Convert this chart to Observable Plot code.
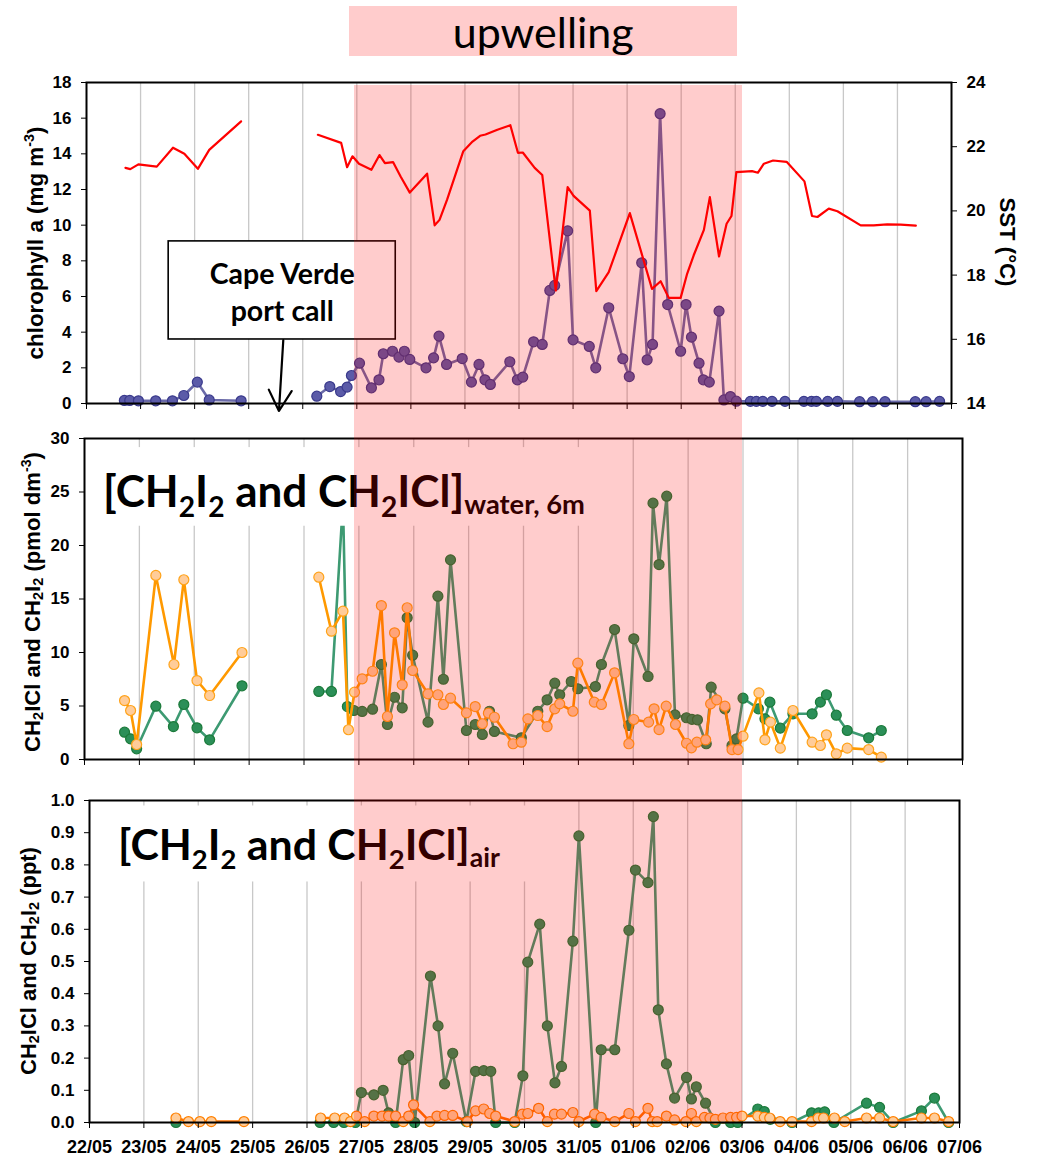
<!DOCTYPE html>
<html>
<head>
<meta charset="utf-8">
<script src="https://cdn.jsdelivr.net/npm/d3@7"></script>
<script src="https://cdn.jsdelivr.net/npm/@observablehq/plot@0.6"></script>
<style>
  body { margin: 0; background: #fff; }
  #chart { position: relative; width: 1037px; height: 1159px; overflow: hidden; background: #fff; }
  #chart svg { position: absolute; left: 0; overflow: visible; }
  .shade { position: absolute; background: rgba(255, 0, 0, 0.2); pointer-events: none; }
  .upwelling-label {
    position: absolute; display: flex; align-items: center; justify-content: center;
    font-family: Lato, "Open Sans", sans-serif; font-size: 43px; color: #000;
    background: rgba(255, 0, 0, 0.2);
  }
</style>
</head>
<body>
<div id="chart"></div>
<script>
// ---- axis ticks / labels (x = day of May; 32 = 1 June) ----
const dayTicks = d3.range(22, 39);
const gridDays = d3.range(23, 38);
const dateLabels = ["22/05","23/05","24/05","25/05","26/05","27/05","28/05","29/05","30/05","31/05",
                    "01/06","02/06","03/06","04/06","05/06","06/06","07/06"];
const chlTicks = d3.range(0, 19, 2);
const sstTicks = [14, 16, 18, 20, 22, 24];
const waterTicks = d3.range(0, 31, 5);
const airTicks = d3.range(0, 11).map(i => i / 10);

// upwelling period (day of May)
const upwelling = [26.92, 34.0];
const portCallEnd = 25.5; // lines are broken across the Cape Verde port call

// ---- chlorophyll a (mg m-3) ----
const chlDay = [22.70,22.80,22.96,23.28,23.59,23.80,24.05,24.27,24.86,
  26.26,26.50,26.70,26.82,26.90,
  27.05,27.27,27.41,27.49,27.66,27.78,27.88,27.98,
  28.28,28.42,28.52,28.66,28.95,
  29.12,29.26,29.37,29.47,29.83,29.97,
  30.07,30.27,30.43,30.57,30.66,30.90,
  31.00,31.30,31.42,31.66,31.92,
  32.04,32.27,32.37,32.47,32.61,32.75,32.99,
  33.09,33.19,33.33,33.41,33.52,33.70,33.79,33.91,
  34.02,34.28,34.39,34.51,34.68,34.92,
  35.27,35.41,35.50,35.71,35.89,
  36.30,36.54,36.77,
  37.33,37.53,37.78];
const chlVal = [0.17,0.17,0.15,0.15,0.15,0.45,1.2,0.2,0.15,
  0.41,0.95,0.67,0.92,1.57,
  2.26,0.88,1.33,2.79,2.93,2.6,2.93,2.47,
  2.0,2.56,3.78,2.19,2.52,
  1.2,2.19,1.33,1.07,2.34,1.33,
  1.48,3.46,3.31,6.34,6.62,9.68,
  3.57,3.2,2.0,5.37,2.51,
  1.51,7.89,2.45,3.31,16.25,5.55,2.93,
  5.55,3.72,2.26,1.33,1.2,5.18,0.2,0.39,
  0.13,0.12,0.12,0.12,0.12,0.12,
  0.12,0.12,0.12,0.12,0.12,
  0.1,0.1,0.1,
  0.1,0.1,0.12];

// ---- sea surface temperature (°C) ----
const sstDay = [22.72,22.81,22.96,23.30,23.60,23.81,24.06,24.27,24.86,
  26.28,26.71,26.82,26.92,27.04,27.27,27.42,27.52,27.67,27.81,27.98,
  28.30,28.44,28.53,28.67,28.97,29.14,29.28,29.38,29.60,29.84,29.98,
  30.07,30.29,30.43,30.68,30.90,31.01,31.31,31.43,31.66,32.05,32.46,
  32.62,32.77,32.99,33.11,33.23,33.42,33.53,33.70,33.84,33.93,34.02,
  34.31,34.42,34.53,34.70,34.95,35.28,35.42,35.52,35.73,35.89,36.32,
  36.56,36.81,37.06,37.34];
const sstVal = [21.34,21.30,21.45,21.38,21.97,21.78,21.31,21.90,22.79,
  22.37,22.12,21.36,21.70,21.47,21.28,21.74,21.49,21.52,21.07,20.57,
  21.16,19.55,19.72,20.35,21.86,22.16,22.34,22.38,22.53,22.67,21.81,
  21.82,21.34,21.12,17.52,20.74,20.47,20.01,17.50,18.09,19.93,17.57,
  17.81,17.29,17.29,18.04,18.61,19.41,20.43,18.58,19.60,19.84,21.21,
  21.24,21.19,21.47,21.57,21.53,20.92,19.84,19.81,20.07,19.99,19.55,
  19.55,19.58,19.57,19.54];

// ---- seawater at 6 m (pmol dm-3) ----
const waterGreenDay = [22.73,22.84,22.95,23.30,23.62,23.81,24.05,24.28,24.87,
  26.27,26.50,26.71,26.79,26.91,
  27.06,27.25,27.41,27.52,27.65,27.79,27.88,27.98,
  28.26,28.44,28.54,28.67,28.96,
  29.12,29.25,29.38,29.47,29.96,
  30.26,30.43,30.57,30.66,30.87,30.99,
  31.31,31.42,31.66,31.92,
  32.01,32.27,32.36,32.47,32.61,32.76,32.97,
  33.07,33.17,33.33,33.42,33.67,33.80,33.88,
  34.00,34.28,34.40,34.49,34.68,34.91,
  35.26,35.41,35.52,35.70,35.90,
  36.29,36.52];
const waterGreenVal = [2.55,1.93,1.0,4.98,3.08,5.14,2.96,1.84,6.89,
  6.36,6.36,24,4.95,4.58,
  4.49,4.70,8.88,3.27,5.82,4.83,13.24,9.75,
  3.49,15.26,7.50,18.66,2.71,
  3.27,2.34,4.51,2.62,2.03,
  4.51,5.58,7.13,6.05,7.29,6.61,
  6.82,8.88,12.15,3.18,
  11.28,7.76,23.96,18.22,24.61,4.17,3.9,
  3.75,3.71,1.47,6.76,4.74,1.31,1.93,
  5.73,4.74,3.80,5.36,2.93,4.27,
  4.27,5.36,6.05,4.14,2.71,
  2.03,2.71];

const waterOrangeDay = [22.73,22.84,22.95,23.30,23.63,23.81,24.05,24.28,24.87,
  26.27,26.50,26.71,26.81,26.92,
  27.06,27.25,27.41,27.52,27.65,27.79,27.88,27.98,
  28.26,28.44,28.54,28.67,28.96,
  29.12,29.25,29.36,29.47,29.81,29.96,
  30.08,30.26,30.43,30.57,30.66,30.90,30.99,
  31.29,31.42,31.66,31.92,
  32.01,32.28,32.38,32.47,32.60,32.77,32.97,
  33.06,33.16,33.32,33.41,33.52,33.67,33.80,33.91,
  34.00,34.29,34.40,34.50,34.68,34.91,
  35.26,35.41,35.52,35.70,35.90,
  36.29,36.52];
const waterOrangeVal = [5.51,4.58,1.40,17.2,8.88,16.8,7.38,5.98,10.0,
  17.04,11.99,13.86,2.78,6.29,
  7.54,8.25,14.39,4.02,11.84,6.98,14.18,8.32,
  6.14,6.05,5.14,5.73,4.36,
  4.95,3.34,4.33,3.95,1.47,1.62,
  3.80,4.11,3.08,4.74,5.20,4.51,9.0,
  5.36,5.14,8.10,1.47,
  3.74,3.49,4.74,2.80,4.98,3.27,1.52,
  1.09,1.62,1.84,5.20,5.58,4.98,0.93,0.93,
  2.18,6.23,1.84,3.49,1.06,4.58,
  1.62,1.31,2.31,0.53,1.06,
  0.93,0.22];

// ---- air (ppt) ----
const airGreenDay = [23.59,
  26.24,26.49,26.68,26.89,27.00,
  27.23,27.40,27.50,27.63,27.77,27.87,27.98,
  28.27,28.41,28.53,28.68,28.93,
  29.10,29.25,29.38,29.47,29.82,29.97,
  30.06,30.28,30.42,30.56,30.68,30.89,
  31.00,31.31,31.41,31.66,31.92,
  32.04,32.27,32.37,32.46,32.61,32.76,32.98,
  33.07,33.16,33.33,33.51,33.79,33.92,
  34.29,34.41,34.52,34.92,
  35.28,35.41,35.52,35.69,
  36.29,36.53,36.78,
  37.30,37.54,37.80];
const airGreenVal = [0,
  0,0,0,0,0.093,
  0.086,0.10,0.03,0,0.195,0.208,0,
  0.455,0.30,0.12,0.215,0.003,
  0.159,0.161,0.159,0,0,0.145,
  0.498,0.616,0.30,0.123,0.174,0.563,
  0.89,0,0.226,0.226,0.597,
  0.784,0.745,0.95,0.35,0.182,0.076,0.14,
  0.073,0.111,0.06,0,0,0,
  0.042,0.034,0.01,0,
  0.03,0.03,0.033,0,
  0.06,0.047,0,
  0.036,0.076,0];

const airOrangeDay = [23.59,23.82,24.03,24.24,24.84,
  26.25,26.51,26.69,26.80,26.91,
  27.06,27.23,27.38,27.50,27.63,27.77,27.87,27.96,
  28.26,28.39,28.53,28.68,28.95,
  29.10,29.25,29.36,29.47,29.82,29.96,
  30.06,30.26,30.42,30.55,30.68,30.89,
  31.00,31.29,31.41,31.66,31.92,
  32.04,32.27,32.35,32.44,32.61,32.76,32.97,
  33.07,33.16,33.31,33.41,33.51,33.65,33.79,33.90,
  34.00,34.29,34.41,34.51,34.70,34.92,
  35.28,35.40,35.50,35.70,35.89,
  36.29,36.53,36.78,
  37.30,37.54,37.80];
const airOrangeVal = [0.014,0.003,0.003,0.003,0.003,
  0.014,0.014,0.014,0.003,0.02,
  0.003,0.02,0.02,0.02,0.02,0.003,0.02,0.055,
  0.003,0.02,0.022,0.022,0.003,
  0.036,0.042,0.028,0.02,0.003,0.026,
  0.028,0.044,0.003,0.026,0.026,0.031,
  0.003,0.026,0.016,0.003,0.028,
  0.003,0.044,0.003,0.003,0.02,0.008,0.003,
  0.028,0.003,0.016,0.014,0.01,0.014,0.016,0.016,
  0.02,0.02,0.016,0.014,0.003,0.003,
  0.003,0.014,0.014,0.014,0.003,
  0.014,0.014,0.003,
  0.014,0.014,0.003];

// ---- annotations (data units) ----
const capeBox = {x1: 23.52, x2: 27.72, y1: 3.59, y2: 9.09, text: "Cape Verde\nport call"};
const capeArrow = {x1: 25.64, y1: 3.55, x2: 25.56, y2: -0.42};
const waterTitleBox = {x1: 22, x2: 31.5, y1: 21.8, y2: 29.15};
const airTitleBox = {x1: 22, x2: 30.5, y1: 0.747, y2: 0.983};

// ---- helpers ----
const series = (days, vals) => days.map((day, i) => ({day, v: vals[i], seg: day < portCallEnd ? 0 : 1}));
const toChl = t => (t - 14) * 1.8; // SST mapped onto the chlorophyll axis (14–24 °C ↔ 0–18)

const W = 1037;
const chart = document.getElementById("chart");
const baseStyle = "font-family:'Liberation Sans',Arial,sans-serif;font-size:17px;font-weight:bold;background:transparent;overflow:visible;";

function panel(top, height, m, yDomain, marks) {
  const svg = Plot.plot({
    width: W, height,
    marginTop: m[0], marginRight: m[1], marginBottom: m[2], marginLeft: m[3],
    x: {domain: [22, 38]},
    y: {domain: yDomain},
    style: baseStyle,
    marks
  });
  svg.style.top = top + "px";
  chart.append(svg);
  return svg;
}

const grid = () => Plot.ruleX(gridDays, {stroke: "#c8c8c8", strokeWidth: 1.3});
const xTicks = () => Plot.axisX({ticks: dayTicks, tickSize: 6, tickFormat: () => "", label: null});

function seriesMarks(data, line, fill, stroke) {
  return [
    Plot.line(data, {x: "day", y: "v", z: "seg", stroke: line, strokeWidth: 2.6}),
    Plot.dot(data, {x: "day", y: "v", r: 5, fill, stroke, strokeWidth: 1.2})
  ];
}

// rich text with sub/superscripts, sized so its advance equals `target`
function richText(svg, {x, y, parts, target, rotate = 0, anchor = "middle", family, weight = "bold", size0 = 20}) {
  const t = d3.select(svg).append("text")
    .attr("text-anchor", anchor)
    .attr("font-family", family)
    .attr("font-weight", weight)
    .attr("fill", "#000");
  const build = F => {
    t.selectAll("tspan").remove();
    t.attr("font-size", F);
    let shift = 0;
    for (const [s, kind] of parts) {
      let size = F, want = 0;
      if (kind === "sub") { size = 0.64 * F; want = 0.22 * F; }
      if (kind === "lsub") { size = 0.66 * F; want = 0.12 * F; }
      if (kind === "sub2") { size = 0.62 * F; want = 0.17 * F; }
      if (kind === "sup") { size = 0.64 * F; want = -0.42 * F; }
      t.append("tspan").attr("font-size", size).attr("dy", want - shift).text(s);
      shift = want;
    }
    t.attr("transform", `translate(${x},${y}) rotate(${rotate})`);
  };
  build(size0);
  const L = t.node().getComputedTextLength();
  build(size0 * target / L);
  return t;
}

// ---- top panel: chlorophyll a + SST ----
const chl = series(chlDay, chlVal);
const sst = series(sstDay, sstVal);
const topSvg = panel(60, 370, [22, 86, 27, 86], [0, 18], [
  grid(),
  Plot.rect([capeBox], {x1: "x1", x2: "x2", y1: "y1", y2: "y2", fill: "white", stroke: "black", strokeWidth: 1.6}),
  Plot.text([capeBox], {x: d => (d.x1 + d.x2) / 2, y: d => (d.y1 + d.y2) / 2, text: "text",
    fontFamily: "Lato, 'Open Sans', sans-serif", fontWeight: "bold", fontSize: 28.5, lineHeight: 1.3, fill: "black"}),
  Plot.arrow([capeArrow], {x1: "x1", y1: "y1", x2: "x2", y2: "y2", stroke: "black", strokeWidth: 2.2, headLength: 20, headAngle: 58}),
  ...seriesMarks(chl, "#6a6aa8", "#5b5ba8", "#3a3a8c"),
  Plot.line(sst, {x: "day", y: d => toChl(d.v), z: "seg", stroke: "#ff0000", strokeWidth: 2.2}),
  Plot.axisY({ticks: chlTicks, tickSize: 5, tickPadding: 10, label: null}),
  Plot.axisY(sstTicks.map(toChl), {anchor: "right", tickSize: 5, tickPadding: 10, label: null,
    tickFormat: v => String(Math.round(v / 1.8 + 14))}),
  xTicks(),
  Plot.frame({stroke: "black", strokeWidth: 2})
]);

// ---- middle panel: seawater ----
const wGreen = series(waterGreenDay, waterGreenVal);
const wOrange = series(waterOrangeDay, waterOrangeVal);
const midSvg = panel(430, 340, [8, 75, 11, 84], [0, 30], [
  grid(),
  ...seriesMarks(wGreen, "#3d9a72", "#2b8f58", "#1b7a3a"),
  ...seriesMarks(wOrange, "#ff9900", "#ffcc99", "#ffa31a"),
  Plot.rect([waterTitleBox], {x1: "x1", x2: "x2", y1: "y1", y2: "y2", fill: "white"}),
  Plot.axisY({ticks: waterTicks, tickSize: 5, tickPadding: 10, label: null}),
  xTicks(),
  Plot.frame({stroke: "black", strokeWidth: 2})
]);

// ---- bottom panel: air ----
const aGreen = series(airGreenDay, airGreenVal);
const aOrange = series(airOrangeDay, airOrangeVal);
const botSvg = panel(775, 384, [25, 78, 37, 89], [0, 1], [
  grid(),
  ...seriesMarks(aGreen, "#3d9a72", "#2b8f58", "#1b7a3a"),
  ...seriesMarks(aOrange, "#ff7300", "#ffcc99", "#ff8000"),
  Plot.rect([airTitleBox], {x1: "x1", x2: "x2", y1: "y1", y2: "y2", fill: "white"}),
  Plot.axisY({ticks: airTicks, tickSize: 5, tickPadding: 10, label: null, tickFormat: d3.format(".1f")}),
  Plot.axisX({ticks: dayTicks, tickSize: 6, tickPadding: 12, label: null, fontSize: 18,
    tickFormat: d => dateLabels[d - 22]}),
  Plot.frame({stroke: "black", strokeWidth: 2})
]);

// ---- panel titles ----
const titleFont = "Lato, 'Open Sans', sans-serif";
const midX = midSvg.scale("x"), botX = botSvg.scale("x");
richText(midSvg, {x: midX.apply(22) + 19, y: 77, anchor: "start", family: titleFont, target: 482, size0: 44,
  parts: [["[CH","n"],["2","sub"],["I","n"],["2","sub"],[" and CH","n"],["2","sub"],["ICl]","n"],["water, 6m","sub2"]]});
richText(botSvg, {x: botX.apply(22) + 29, y: 85, anchor: "start", family: titleFont, target: 382, size0: 44,
  parts: [["[CH","n"],["2","sub"],["I","n"],["2","sub"],[" and CH","n"],["2","sub"],["ICl]","n"],["air","sub2"]]});

// ---- axis titles ----
const axisFont = "'Liberation Sans', Arial, sans-serif";
function axisTitle(svg, cx, cy, rot, target, parts) {
  const t = richText(svg, {x: cx, y: cy, rotate: rot, family: axisFont, target, size0: 18, parts});
  // centre the glyphs on (cx, cy): move baseline by ~0.36 em across the text direction
  const F = +t.attr("font-size");
  t.attr("y", 0.36 * F);
}
axisTitle(topSvg, 35, 183, -90, 233, [["chlorophyll a (mg m","n"],["-3","sup"],[")","n"]]);
axisTitle(topSvg, 1008, 182, 90, 89, [["SST (°C)","n"]]);
axisTitle(midSvg, 32, 172, -90, 300, [["CH","n"],["2","lsub"],["ICl and CH","n"],["2","lsub"],["I","n"],["2","lsub"],[" (pmol dm","n"],["-3","sup"],[")","n"]]);
axisTitle(botSvg, 28, 186, -90, 228, [["CH","n"],["2","lsub"],["ICl and CH","n"],["2","lsub"],["I","n"],["2","lsub"],[" (ppt)","n"]]);

// ---- upwelling shading across all panels + label ----
const x0 = midX.apply(upwelling[0]), x1 = midX.apply(upwelling[1]);
const shade = document.createElement("div");
shade.className = "shade";
Object.assign(shade.style, {left: x0 + "px", width: (x1 - x0) + "px", top: "85px", height: (1121 - 85) + "px"});
chart.append(shade);

const label = document.createElement("div");
label.className = "upwelling-label";
label.textContent = "upwelling";
Object.assign(label.style, {left: (x0 - 5) + "px", width: (x1 - x0) + "px", top: "6px", height: "50px"});
chart.append(label);
</script>
</body>
</html>
